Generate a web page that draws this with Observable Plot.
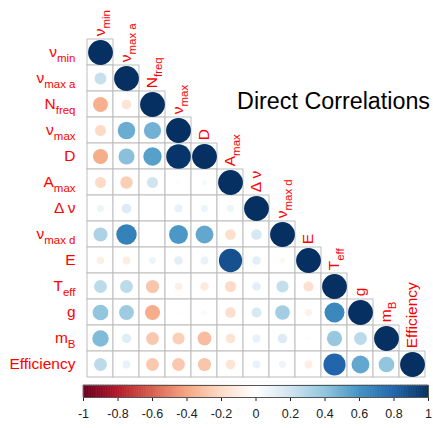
<!DOCTYPE html>
<html><head><meta charset="utf-8">
<script src="https://cdn.jsdelivr.net/npm/d3@7"></script>
<script src="https://cdn.jsdelivr.net/npm/@observablehq/plot@0.6"></script>
<style>
html,body{margin:0;padding:0;background:#fff;}
#wrap{position:relative;width:433px;height:428px;font-family:"Liberation Sans",Arial,sans-serif;}
#title{position:absolute;right:3px;top:90px;font-size:23.3px;line-height:23.3px;color:#000;white-space:nowrap;}
svg{display:block;}
</style></head><body>
<div id="wrap"><div id="chart"></div><div id="bar"></div><div id="title">Direct Correlations</div></div>
<script>
const variables = ["νmin","νmax a","Nfreq","νmax","D","Amax","Δ ν","νmax d","E","Teff","g","mB","Efficiency"];
const labelBase = ["ν","ν","N","ν","D","A","Δ ν","ν","E","T","g","m","Efficiency"];
const labelSub  = ["min","max a","freq","max","","max","","max d","","eff","","B",""];
// lower triangle (row i, columns 0..i-1); diagonal is 1
const lowerRows = [
  [],
  [0.23],
  [-0.36, -0.15],
  [-0.2, 0.5, 0.48],
  [-0.37, 0.42, 0.55, 0.98],
  [-0.2, -0.25, 0.2, 0.02, 0.05],
  [0.08, 0.15, 0, 0.1, 0.08, 0.08],
  [0.32, 0.68, 0, 0.58, 0.52, -0.18, 0.18],
  [-0.09, -0.1, 0.08, 0.12, 0.1, 0.88, 0.12, -0.05],
  [0.27, 0.27, -0.28, -0.09, -0.12, -0.2, 0.12, 0.24, -0.17],
  [0.4, 0.36, -0.37, 0.02, -0.04, -0.18, 0.17, 0.35, -0.08, 0.65],
  [0.44, 0.14, -0.27, -0.24, -0.31, -0.15, 0.1, 0.15, -0.02, 0.38, 0.27],
  [0.27, 0.1, -0.27, -0.27, -0.28, -0.15, 0.1, 0.08, -0.1, 0.8, 0.52, 0.4]
];
const colorTicks = [-1, -0.8, -0.6, -0.4, -0.2, 0, 0.2, 0.4, 0.6, 0.8, 1];
const colorTickLabels = ["-1","-0.8","-0.6","-0.4","-0.2","0","0.2","0.4","0.6","0.8","1"];
const paletteRdBu = ["#67001F","#B2182B","#D6604D","#F4A582","#FDDBC7","#FFFFFF","#D1E5F0","#92C5DE","#4393C3","#2166AC","#053061"];
const titleText = "Direct Correlations";

document.getElementById("title").textContent = titleText;

const cells = [];
variables.forEach((row, i) => {
  for (let j = 0; j <= i; j++) cells.push({row, col: variables[j], value: j === i ? 1 : lowerRows[i][j]});
});

const W = 433, ML = 83, MR = 5, MT = 35, MB = 3, H = 383;
const cellSize = (W - ML - MR) / variables.length;
const colorScale = {type: "linear", domain: colorTicks, range: paletteRdBu, interpolate: "rgb"};
const fontFamily = "'Liberation Sans', Arial, sans-serif";

const main = Plot.plot({
  width: W, height: H, marginLeft: ML, marginRight: MR, marginTop: MT, marginBottom: MB,
  style: {fontFamily, background: "white", overflow: "visible"},
  x: {domain: variables, padding: 0, axis: null},
  y: {domain: variables, padding: 0, axis: null},
  color: colorScale,
  r: {type: "sqrt", domain: [0, 1], range: [0, 12.4]},
  marks: [
    Plot.cell(cells, {x: "col", y: "row", fill: "white", stroke: "#bdbdbd", strokeWidth: 1, inset: 0}),
    Plot.dot(cells, {x: "col", y: "row", r: d => Math.abs(d.value), fill: "value", stroke: null}),
    Plot.text(variables, {y: d => d, frameAnchor: "left", textAnchor: "end", dx: -8, fill: "red", fontSize: 15.5}),
    Plot.text(variables, {x: d => d, y: d => d, rotate: -90, textAnchor: "start", dy: -(cellSize / 2 + 3), fill: "red", fontSize: 15.5})
  ]
});

// rebuild labels with subscripts
d3.select(main).selectAll("g[aria-label='text'] text").each(function() {
  const t = this.textContent;
  const i = variables.indexOf(t);
  if (i < 0) return;
  const sel = d3.select(this);
  sel.text(null);
  sel.append("tspan").text(labelBase[i]);
  if (labelSub[i]) sel.append("tspan").attr("font-size", "0.74em").attr("dy", "0.38em").text(labelSub[i]);
});
document.getElementById("chart").append(main);

const tickLabel = new Map(colorTicks.map((d, i) => [d, colorTickLabels[i]]));
const rampStops = d3.range(200).map(i => -1 + (i + 0.5) * 0.01);
const bar = Plot.plot({
  width: W, height: 45, marginLeft: ML, marginRight: MR, marginTop: 2, marginBottom: 31,
  style: {fontFamily, fontSize: "12.5px", color: "#222", background: "white"},
  x: {domain: [-1, 1], ticks: colorTicks, tickFormat: d => tickLabel.get(d), tickSize: 4, tickPadding: 8, label: null},
  y: {domain: [0, 1], axis: null},
  color: colorScale,
  marks: [
    Plot.rect(rampStops, {x1: d => d - 0.005, x2: d => d + 0.005, y1: 0, y2: 1, fill: d => d, stroke: d => d, strokeWidth: 0.6}),
    Plot.frame({stroke: "#555", strokeWidth: 1})
  ]
});
document.getElementById("bar").append(bar);
</script>
</body></html>
